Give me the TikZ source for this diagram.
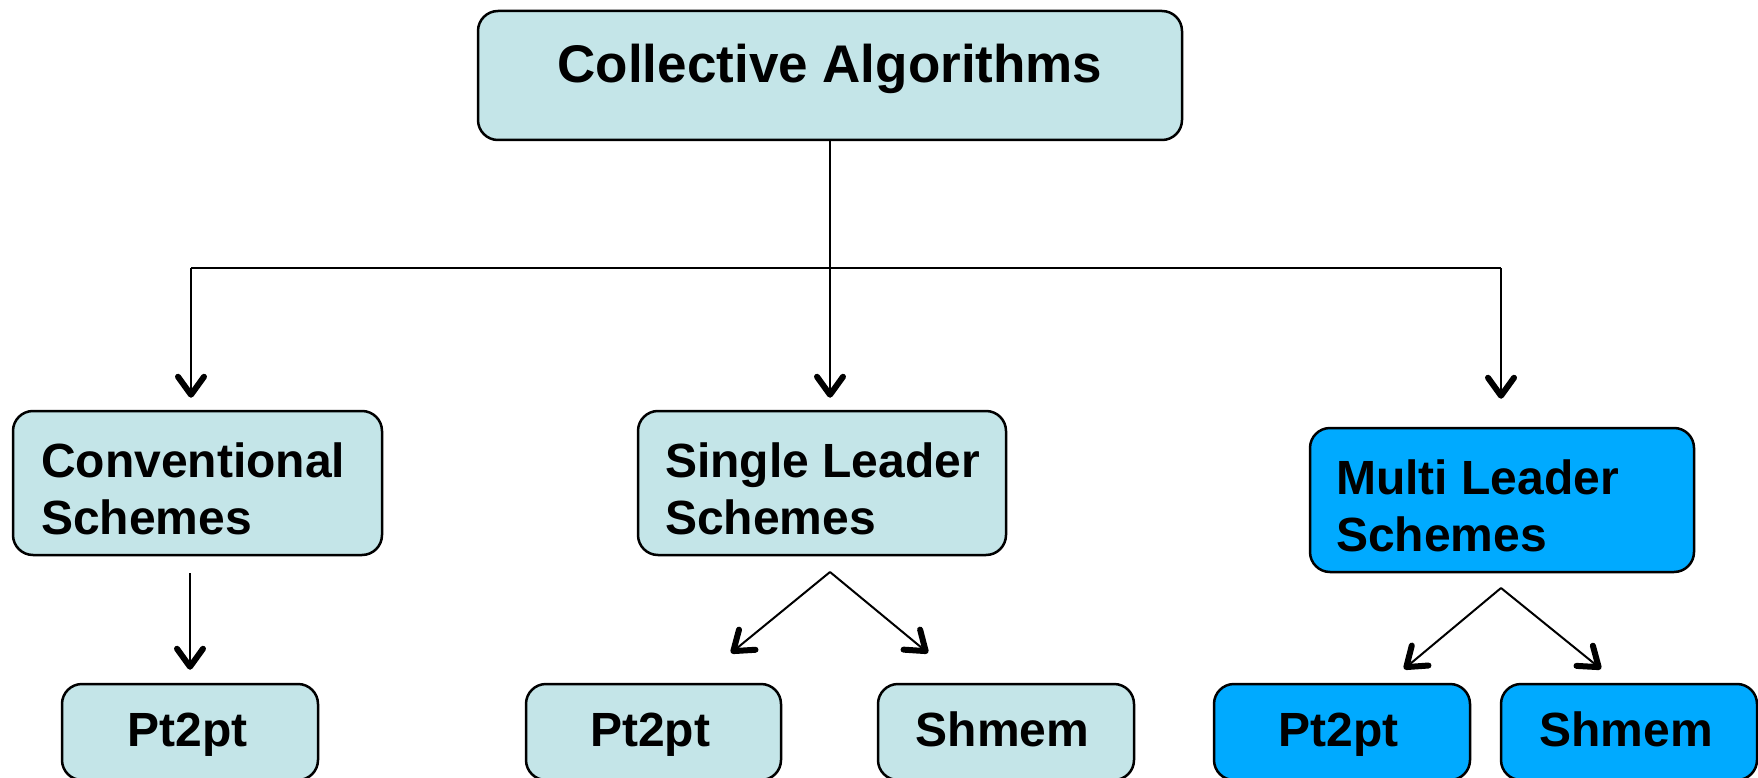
\documentclass[tikz,border=0pt]{standalone}
\usepackage{fontspec}
\setmainfont{Liberation Sans}
\usetikzlibrary{arrows.meta}
\definecolor{paleblue}{RGB}{196,229,232}
\definecolor{brightblue}{RGB}{0,170,255}

\begin{document}
\begin{tikzpicture}[x=1pt,y=-1pt,
  box/.style={draw=black, line width=2.5pt, rounded corners=20pt, fill=paleblue, inner sep=0pt},
  hotbox/.style={box, fill=brightblue},
  bigtxt/.style={inner sep=0pt, font=\fontsize{53}{60}\selectfont\bfseries},
  txt/.style={inner sep=0pt, align=left, font=\fontsize{48}{57}\selectfont\bfseries},
  wire/.style={draw=black, line width=2pt},
  arr/.style={wire, -{Straight Barb[length=18pt,width=26pt,line width=6pt,round]}}]
\useasboundingbox (0,0) rectangle (1758,778);

% root
\node[box, minimum width=704pt, minimum height=129pt] (top) at (830,75.5) {};
\node[bigtxt, anchor=base] (toptxt) at (830,83) {Collective Algorithms};

% second level
\node[box, minimum width=369pt, minimum height=144pt] (conv) at (197.5,483) {};
\node[txt, anchor=base west] (convtxt) at (41,534) {Conventional\\Schemes};
\node[box, minimum width=368pt, minimum height=144pt] (single) at (822,483) {};
\node[txt, anchor=base west] (singletxt) at (665,534) {Single Leader\\Schemes};
\node[hotbox, minimum width=384pt, minimum height=144pt] (multi) at (1502,500) {};
\node[txt, anchor=base west] (multitxt) at (1336,551) {Multi Leader\\Schemes};

% leaves
\node[box, minimum width=256pt, minimum height=96pt] (cpt) at (190,732) {};
\node[txt, anchor=base] (cpttxt) at (187.5,746) {Pt2pt};
\node[box, minimum width=255pt, minimum height=96pt] (spt) at (653.5,732) {};
\node[txt, anchor=base] (spttxt) at (650,746) {Pt2pt};
\node[box, minimum width=256pt, minimum height=96pt] (ssh) at (1006,732) {};
\node[txt, anchor=base] (sshtxt) at (1002.5,746) {Shmem};
\node[hotbox, minimum width=256pt, minimum height=96pt] (mpt) at (1342,732) {};
\node[txt, anchor=base] (mpttxt) at (1338.5,746) {Pt2pt};
\node[hotbox, minimum width=256pt, minimum height=96pt] (msh) at (1629,732) {};
\node[txt, anchor=base] (mshtxt) at (1626,746) {Shmem};

% root fan-out
\coordinate (busL) at (191,268);
\coordinate (busR) at (1501,268);
\draw[wire] (busL) -- (busR);
\draw[arr, shorten >=12pt] (top.south) -- (single.north -| top.south);
\draw[arr, shorten >=12pt] (busL) -- (busL |- conv.north);
\draw[arr, shorten >=28pt] (busR) -- (busR |- multi.north);

% conventional branch
\draw[arr, shorten <=17pt, shorten >=13pt] (cpt.north |- conv.south) -- (cpt.north);

% single leader split
\coordinate (sapex) at (830,572);
\coordinate (stipL) at (731,653);
\coordinate (stipR) at (928,653);
\draw[arr] (sapex) -- (stipL);
\draw[arr] (sapex) -- (stipR);

% multi leader split
\coordinate (mapex) at (1501,588);
\coordinate (mtipL) at (1404,669);
\coordinate (mtipR) at (1601,669);
\draw[arr] (mapex) -- (mtipL);
\draw[arr] (mapex) -- (mtipR);
\end{tikzpicture}
\end{document}
